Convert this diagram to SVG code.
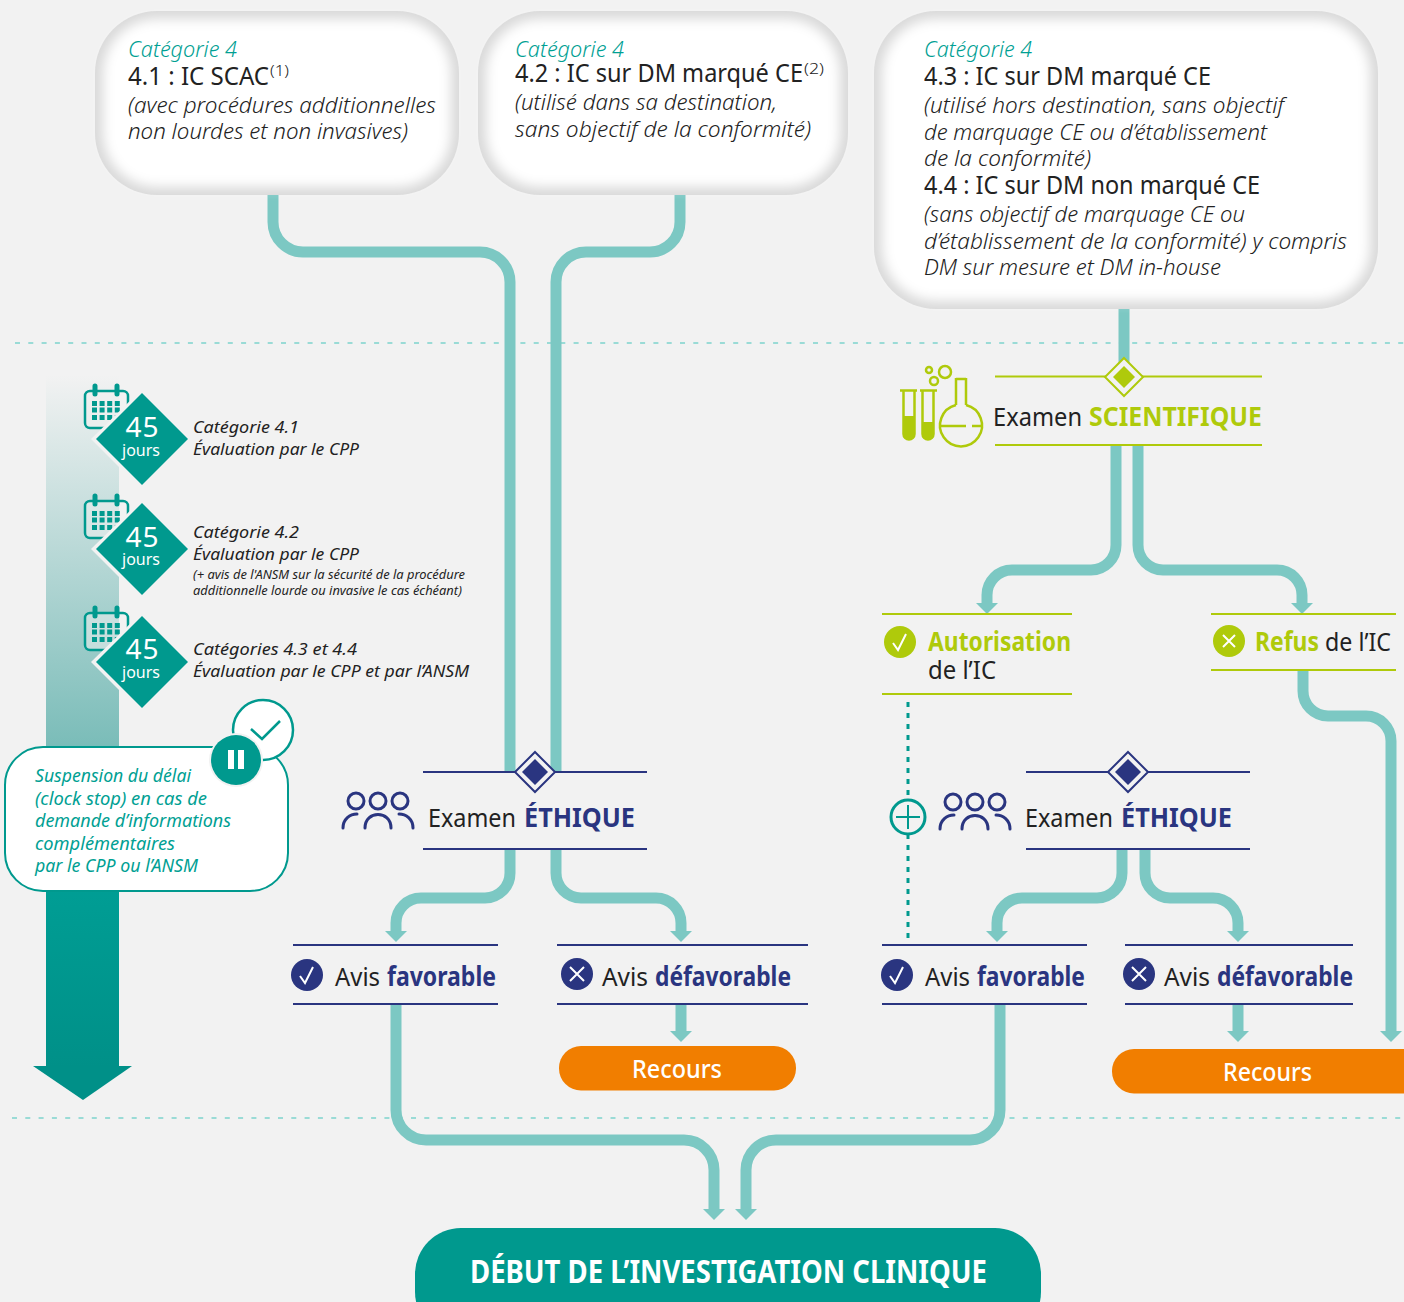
<svg xmlns="http://www.w3.org/2000/svg" width="1404" height="1302" viewBox="0 0 1404 1302">
<style>
text{font-family:"Noto Sans","Liberation Sans",sans-serif;fill:#222;font-weight:300}
.cat{font-size:21px;font-style:italic;fill:#00a093}
.h{font-size:25px;font-weight:400}
.sub{font-size:22px;font-style:italic}
.sup{font-size:14px}
.t{font-size:17px;font-style:italic;font-weight:400}
.ts{font-size:12px;font-style:italic;font-weight:400}
.c{font-size:18px;font-style:italic;fill:#00a093;font-weight:400}
.big{font-size:26px;font-weight:400}
.b{font-weight:700}
.navy{fill:#2a3580}
.lime{fill:#afca0b}
.w{fill:#fff}
.conn{fill:none;stroke:#7cc8c3;stroke-width:11}
.head{fill:#7cc8c3}
.ln{stroke:#2a3580;stroke-width:2}
.ll{stroke:#afca0b;stroke-width:2}
.dot{stroke:#9adbd6;stroke-width:2;stroke-dasharray:5 8.300;fill:none}
.num{font-size:28px;fill:#fff;text-anchor:middle;font-weight:400}
.jr{font-size:16px;fill:#fff;text-anchor:middle;font-weight:400}
</style>
<defs>
<filter id="soft" x="-10%" y="-10%" width="120%" height="120%"><feGaussianBlur stdDeviation="6"/></filter>
<linearGradient id="bar" x1="0" y1="0" x2="0" y2="1"><stop offset="0" stop-color="#f2f2f2"/><stop offset="0.55" stop-color="#77bbb7"/><stop offset="0.56" stop-color="#00a79d"/><stop offset="1" stop-color="#009088"/></linearGradient>
<g id="cal"><rect x="85" y="391" width="43" height="37" rx="5" fill="#f2f2f2" fill-opacity=".5" stroke="#00998e" stroke-width="2.500"/><path d="M95 386v8M117 386v8" stroke="#00998e" stroke-width="5" stroke-linecap="round"/><path d="M92 403.500h28M92 410h28M92 417.500h28" stroke="#00998e" stroke-width="4.800" stroke-dasharray="5 2.600"/></g>
<g id="people" fill="none" stroke="#2a3580" stroke-width="3" stroke-linecap="round"><circle cx="356" cy="801" r="8"/><circle cx="378" cy="801" r="8"/><circle cx="400" cy="801" r="8"/><path d="M365 828c0-18 26-18 26 0M343 828c0-9 7-14 14-14M413 828c0-9-7-14-14-14"/></g>
<g id="dia"><polygon points="0,-20 20,0 0,20 -20,0" fill="#f2f2f2" stroke="#2a3580" stroke-width="2"/><polygon points="0,-13 13,0 0,13 -13,0" fill="#2a3580"/></g>
</defs>
<rect width="1404" height="1302" fill="#f2f2f2"/>

<g id="separators">
<path class="dot" d="M15 343H1404"/>
<path class="dot" d="M12 1118H1404"/>
</g>

<g id="timeline-bar">
<rect x="46" y="375" width="73" height="693" fill="url(#bar)"/>
<polygon points="33,1066 132,1066 83,1100" fill="#009088"/>
</g>

<g id="connectors">
<path class="conn" d="M273 190V222A30 30 0 0 0 303 252H480A30 30 0 0 1 510 282V772"/>
<path class="conn" d="M680 190V222A30 30 0 0 1 650 252H586A30 30 0 0 0 556 282V772"/>
<path class="conn" d="M1124 305V365"/>
<path class="conn" d="M1116 445V545A25 25 0 0 1 1091 570H1012A25 25 0 0 0 987 595V605"/>
<path class="conn" d="M1138 445V545A25 25 0 0 0 1163 570H1277A25 25 0 0 1 1302 595V605"/>
<path class="conn" d="M1303 670V691A25 25 0 0 0 1328 716H1366A25 25 0 0 1 1391 741V1033"/>
<path class="conn" d="M510 849V873A25 25 0 0 1 485 898H421A25 25 0 0 0 396 923V933"/>
<path class="conn" d="M556 849V873A25 25 0 0 0 581 898H656A25 25 0 0 1 681 923V933"/>
<path class="conn" d="M1122 849V873A25 25 0 0 1 1097 898H1022A25 25 0 0 0 997 923V933"/>
<path class="conn" d="M1145 849V873A25 25 0 0 0 1170 898H1213A25 25 0 0 1 1238 923V933"/>
<path class="conn" d="M681 1004V1033"/>
<path class="conn" d="M1238 1004V1033"/>
<path class="conn" d="M396 1004V1110A30 30 0 0 0 426 1140H684A30 30 0 0 1 714 1170V1211"/>
<path class="conn" d="M1000 1004V1110A30 30 0 0 1 970 1140H776A30 30 0 0 0 746 1170V1211"/>
<g class="head">
<polygon points="976,603 998,603 987,614"/><polygon points="1291,603 1313,603 1302,614"/>
<polygon points="1380,1031 1402,1031 1391,1042"/>
<polygon points="385,931 407,931 396,942"/><polygon points="670,931 692,931 681,942"/>
<polygon points="986,931 1008,931 997,942"/><polygon points="1227,931 1249,931 1238,942"/>
<polygon points="670,1031 692,1031 681,1042"/><polygon points="1227,1031 1249,1031 1238,1042"/>
<polygon points="703,1209 725,1209 714,1220"/><polygon points="735,1209 757,1209 746,1220"/>
</g>
<path d="M908 702V940" stroke="#00998e" stroke-width="3" stroke-dasharray="5 6" fill="none"/>
</g>

<g id="cat-41">
<rect x="95" y="11" width="364" height="184" rx="62" fill="#d9d9d9"/>
<rect x="103" y="19" width="348" height="168" rx="54" fill="#fff" filter="url(#soft)"/>
<text class="cat" x="128" y="57" textLength="109" lengthAdjust="spacingAndGlyphs">Catégorie 4</text>
<text class="h" x="128" y="85" textLength="141" lengthAdjust="spacingAndGlyphs">4.1 : IC SCAC</text>
<text class="sup" x="270" y="76" textLength="19" lengthAdjust="spacingAndGlyphs">(1)</text>
<text class="sub" x="128" y="113" textLength="308" lengthAdjust="spacingAndGlyphs">(avec procédures additionnelles</text>
<text class="sub" x="128" y="139" textLength="280" lengthAdjust="spacingAndGlyphs">non lourdes et non invasives)</text>
</g>
<g id="cat-42">
<rect x="478" y="11" width="370" height="184" rx="62" fill="#d9d9d9"/>
<rect x="486" y="19" width="354" height="168" rx="54" fill="#fff" filter="url(#soft)"/>
<text class="cat" x="515" y="57" textLength="109" lengthAdjust="spacingAndGlyphs">Catégorie 4</text>
<text class="h" x="515" y="82" textLength="288" lengthAdjust="spacingAndGlyphs">4.2 : IC sur DM marqué CE</text>
<text class="sup" x="804" y="74" textLength="20" lengthAdjust="spacingAndGlyphs">(2)</text>
<text class="sub" x="515" y="110" textLength="262" lengthAdjust="spacingAndGlyphs">(utilisé dans sa destination,</text>
<text class="sub" x="515" y="137" textLength="296" lengthAdjust="spacingAndGlyphs">sans objectif de la conformité)</text>
</g>
<g id="cat-43-44">
<rect x="874" y="11" width="504" height="298" rx="62" fill="#d9d9d9"/>
<rect x="882" y="19" width="488" height="282" rx="54" fill="#fff" filter="url(#soft)"/>
<text class="cat" x="924" y="57" textLength="108" lengthAdjust="spacingAndGlyphs">Catégorie 4</text>
<text class="h" x="924" y="85" textLength="287" lengthAdjust="spacingAndGlyphs">4.3 : IC sur DM marqué CE</text>
<text class="sub" x="924" y="113" textLength="360" lengthAdjust="spacingAndGlyphs">(utilisé hors destination, sans objectif</text>
<text class="sub" x="924" y="140" textLength="343" lengthAdjust="spacingAndGlyphs">de marquage CE ou d’établissement</text>
<text class="sub" x="924" y="166" textLength="167" lengthAdjust="spacingAndGlyphs">de la conformité)</text>
<text class="h" x="924" y="194" textLength="336" lengthAdjust="spacingAndGlyphs">4.4 : IC sur DM non marqué CE</text>
<text class="sub" x="924" y="222" textLength="321" lengthAdjust="spacingAndGlyphs">(sans objectif de marquage CE ou</text>
<text class="sub" x="924" y="249" textLength="423" lengthAdjust="spacingAndGlyphs">d’établissement de la conformité) y compris</text>
<text class="sub" x="924" y="275" textLength="297" lengthAdjust="spacingAndGlyphs">DM sur mesure et DM in-house</text>
</g>

<g id="delay-41">
<use href="#cal"/>
<polygon points="137,394 91,439 137,485" fill="#f2f2f2"/>
<polygon points="142,393 188,439 142,485 96,439" fill="#00998e"/>
<text class="num" x="142" y="437" textLength="33">45</text><text class="jr" x="141" y="456">jours</text>
<text class="t" x="193" y="433" textLength="106" lengthAdjust="spacingAndGlyphs">Catégorie 4.1</text>
<text class="t" x="193" y="455" textLength="166" lengthAdjust="spacingAndGlyphs">Évaluation par le CPP</text>
</g>
<g id="delay-42">
<use href="#cal" y="110"/>
<polygon points="137,504 91,549 137,595" fill="#f2f2f2"/>
<polygon points="142,503 188,549 142,595 96,549" fill="#00998e"/>
<text class="num" x="142" y="547" textLength="33">45</text><text class="jr" x="141" y="565">jours</text>
<text class="t" x="193" y="538" textLength="106" lengthAdjust="spacingAndGlyphs">Catégorie 4.2</text>
<text class="t" x="193" y="560" textLength="166" lengthAdjust="spacingAndGlyphs">Évaluation par le CPP</text>
<text class="ts" x="193" y="579" textLength="272" lengthAdjust="spacingAndGlyphs">(+ avis de l'ANSM sur la sécurité de la procédure</text>
<text class="ts" x="193" y="595" textLength="269" lengthAdjust="spacingAndGlyphs">additionnelle lourde ou invasive le cas échéant)</text>
</g>
<g id="delay-43">
<use href="#cal" y="222"/>
<polygon points="137,617 91,662 137,708" fill="#f2f2f2"/>
<polygon points="142,616 188,662 142,708 96,662" fill="#00998e"/>
<text class="num" x="142" y="659" textLength="33">45</text><text class="jr" x="141" y="678">jours</text>
<text class="t" x="193" y="655" textLength="164" lengthAdjust="spacingAndGlyphs">Catégories 4.3 et 4.4</text>
<text class="t" x="193" y="677" textLength="276" lengthAdjust="spacingAndGlyphs">Évaluation par le CPP et par l’ANSM</text>
</g>

<g id="clock-stop">
<rect x="5" y="747" width="283" height="144" rx="38" fill="#fff" stroke="#00998e" stroke-width="2"/>
<circle cx="263" cy="730" r="30" fill="#fff" stroke="#00998e" stroke-width="2.500"/>
<path d="M251 729l11 10 18-18" fill="none" stroke="#00998e" stroke-width="2.500"/>
<circle cx="236" cy="760" r="27" fill="#f2f2f2"/>
<circle cx="236" cy="760" r="25" fill="#00998e"/>
<path d="M231 750v19M241 750v19" stroke="#fff" stroke-width="6"/>
<text class="c" x="35" y="782" textLength="156" lengthAdjust="spacingAndGlyphs">Suspension du délai</text>
<text class="c" x="35" y="805" textLength="172" lengthAdjust="spacingAndGlyphs">(clock stop) en cas de</text>
<text class="c" x="35" y="827" textLength="196" lengthAdjust="spacingAndGlyphs">demande d’informations</text>
<text class="c" x="35" y="850" textLength="140" lengthAdjust="spacingAndGlyphs">complémentaires</text>
<text class="c" x="35" y="872" textLength="163" lengthAdjust="spacingAndGlyphs">par le CPP ou l’ANSM</text>
</g>

<g id="examen-scientifique">
<path class="ll" d="M995 376.500H1262M995 445H1262"/>
<polygon points="1124,358 1143,377 1124,396 1105,377" fill="#f2f2f2" stroke="#afca0b" stroke-width="2"/>
<polygon points="1124,366 1135,377 1124,388 1113,377" fill="#afca0b"/>
<g fill="none" stroke="#afca0b" stroke-width="2.500">
<path d="M900 390.500H917M920 390.500H937"/>
<path d="M903.500 391V434a5 5 0 0 0 11 0V391M922.500 391V434a5 5 0 0 0 11 0V391"/>
<circle cx="929" cy="370" r="3"/><circle cx="934" cy="381" r="4"/><circle cx="945" cy="372" r="6"/>
<path d="M956 379H966M956 378V405M966 378V405"/>
<path d="M956 405a21 21 0 1 0 10 0"/>
<path d="M940 426H966M972 426H981"/>
</g>
<path d="M903 416h12v18a6 6 0 0 1-12 0zM922 422h12v12a6 6 0 0 1-12 0z" fill="#afca0b"/>
<text class="big" x="993" y="426" textLength="89" lengthAdjust="spacingAndGlyphs">Examen</text>
<text class="big b lime" x="1089" y="426" textLength="173" lengthAdjust="spacingAndGlyphs">SCIENTIFIQUE</text>
</g>

<g id="autorisation">
<path class="ll" d="M882 614H1072M882 694H1072"/>
<circle cx="900" cy="642" r="16" fill="#afca0b"/>
<path d="M893 643l5 7 8-16" fill="none" stroke="#fff" stroke-width="2"/>
<text class="big b lime" x="928" y="651" textLength="143" lengthAdjust="spacingAndGlyphs">Autorisation</text>
<text class="big" x="928" y="679" textLength="68" lengthAdjust="spacingAndGlyphs">de l’IC</text>
</g>
<g id="refus">
<path class="ll" d="M1211 614H1396M1211 670H1396"/>
<circle cx="1229" cy="641" r="16" fill="#afca0b"/>
<path d="M1223 635l12 12M1235 635l-12 12" fill="none" stroke="#fff" stroke-width="2"/>
<text class="big b lime" x="1255" y="651" textLength="64" lengthAdjust="spacingAndGlyphs">Refus</text>
<text class="big" x="1325" y="651" textLength="66" lengthAdjust="spacingAndGlyphs">de l’IC</text>
</g>

<g id="examen-ethique-1">
<use href="#people"/>
<path class="ln" d="M423 772H647M423 849H647"/>
<use href="#dia" x="535" y="772"/>
<text class="big" x="428" y="827" textLength="88" lengthAdjust="spacingAndGlyphs">Examen</text>
<text class="big b navy" x="524" y="827" textLength="111" lengthAdjust="spacingAndGlyphs">ÉTHIQUE</text>
</g>
<g id="examen-ethique-2">
<circle cx="908" cy="817" r="17" fill="#f2f2f2" stroke="#00998e" stroke-width="3"/>
<path d="M896 817H920M908 805V829" stroke="#00998e" stroke-width="2"/>
<use href="#people" x="597" y="1"/>
<path class="ln" d="M1026 772H1250M1026 849H1250"/>
<use href="#dia" x="1128" y="772"/>
<text class="big" x="1025" y="827" textLength="88" lengthAdjust="spacingAndGlyphs">Examen</text>
<text class="big b navy" x="1121" y="827" textLength="111" lengthAdjust="spacingAndGlyphs">ÉTHIQUE</text>
</g>

<g id="avis-favorable-1">
<path class="ln" d="M293 945H498M293 1004H498"/>
<circle cx="307" cy="975" r="16" fill="#2a3580"/>
<path d="M300 976l5 7 8-16" fill="none" stroke="#fff" stroke-width="2"/>
<text class="big" x="335" y="986" textLength="45" lengthAdjust="spacingAndGlyphs">Avis</text>
<text class="big b navy" x="387" y="986" textLength="109" lengthAdjust="spacingAndGlyphs">favorable</text>
</g>
<g id="avis-defavorable-1">
<path class="ln" d="M557 945H808M557 1004H808"/>
<circle cx="577" cy="974" r="16" fill="#2a3580"/>
<path d="M570 967l14 14M584 967l-14 14" stroke="#fff" stroke-width="2"/>
<text class="big" x="602" y="986" textLength="46" lengthAdjust="spacingAndGlyphs">Avis</text>
<text class="big b navy" x="655" y="986" textLength="136" lengthAdjust="spacingAndGlyphs">défavorable</text>
</g>
<g id="avis-favorable-2">
<path class="ln" d="M882 945H1087M882 1004H1087"/>
<circle cx="897" cy="975" r="16" fill="#2a3580"/>
<path d="M890 976l5 7 8-16" fill="none" stroke="#fff" stroke-width="2"/>
<text class="big" x="925" y="986" textLength="45" lengthAdjust="spacingAndGlyphs">Avis</text>
<text class="big b navy" x="977" y="986" textLength="108" lengthAdjust="spacingAndGlyphs">favorable</text>
</g>
<g id="avis-defavorable-2">
<path class="ln" d="M1125 945H1353M1125 1004H1353"/>
<circle cx="1139" cy="974" r="16" fill="#2a3580"/>
<path d="M1132 967l14 14M1146 967l-14 14" stroke="#fff" stroke-width="2"/>
<text class="big" x="1164" y="986" textLength="46" lengthAdjust="spacingAndGlyphs">Avis</text>
<text class="big b navy" x="1217" y="986" textLength="136" lengthAdjust="spacingAndGlyphs">défavorable</text>
</g>

<g id="recours-1">
<rect x="559" y="1046" width="237" height="44.500" rx="22" fill="#f17e00"/>
<text class="big w" style="font-weight:500" x="632" y="1078" textLength="90" lengthAdjust="spacingAndGlyphs">Recours</text>
</g>
<g id="recours-2">
<rect x="1112" y="1049" width="320" height="44.500" rx="22" fill="#f17e00"/>
<text class="big w" style="font-weight:500" x="1223" y="1081" textLength="89" lengthAdjust="spacingAndGlyphs">Recours</text>
</g>
<g id="debut">
<rect x="415" y="1228" width="626" height="110" rx="46" fill="#00998e"/>
<text class="b w" font-size="32" style="font-weight:700" x="470" y="1283" textLength="517" lengthAdjust="spacingAndGlyphs">DÉBUT DE L’INVESTIGATION CLINIQUE</text>
</g>
</svg>
